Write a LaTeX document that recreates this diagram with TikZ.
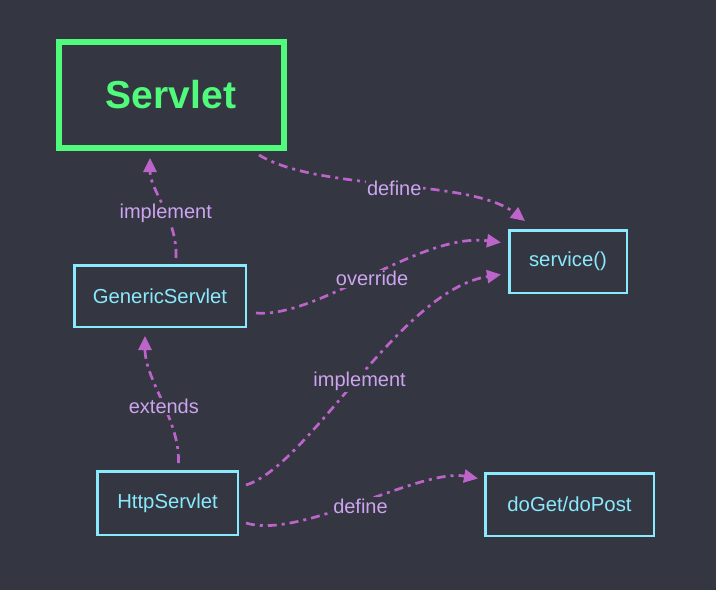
\documentclass[tikz,border=0pt]{standalone}
\usepackage{fontspec}
\setmainfont{Liberation Sans}
\usetikzlibrary{arrows.meta}
\definecolor{bg}{HTML}{343641}
\definecolor{grn}{HTML}{50FA7B}
\definecolor{cyn}{HTML}{8BE9FD}
\definecolor{arr}{HTML}{BD64CB}
\definecolor{lbl}{HTML}{CDA4F0}
\tikzset{
  box/.style={draw=cyn, line width=2.5pt, text=cyn, font=\fontsize{20.3}{24}\selectfont, inner sep=0pt},
  mainbox/.style={draw=grn, line width=6pt, text=grn, font=\fontsize{39}{44}\selectfont\bfseries, inner sep=0pt, minimum width=225pt, minimum height=106pt},
  conn/.style={draw=arr, line width=2.7pt, dash pattern=on 9pt off 5pt on 3pt off 5pt, -{Triangle[length=14pt,width=13pt]}},
  elabel/.style={fill=bg, text=lbl, font=\fontsize{20}{24}\selectfont, inner sep=1.5pt, yshift=-3pt}
}
\begin{document}
\begin{tikzpicture}[x=1pt,y=-1pt]
\fill[bg] (0,0) rectangle (716,590);
\useasboundingbox (0,0) rectangle (716,590);
\node[mainbox] (servlet) at (171,95) {Servlet};
\node[box, minimum width=171.5pt, minimum height=61.5pt] (gs) at (160,296) {GenericServlet};
\node[box, minimum width=117.5pt, minimum height=62.5pt] (svc) at (568,261.5) {service()};
\node[box, minimum width=140.5pt, minimum height=63.5pt] (hs) at (167.5,503) {HttpServlet};
\node[box, minimum width=168.5pt, minimum height=62.5pt] (dg) at (569.5,504.5) {doGet/doPost};

\coordinate (a1) at ([xshift=16pt,yshift=6pt]gs.north);
\coordinate (a2) at ([xshift=-21pt,yshift=-7pt]servlet.south);
\draw[conn] (a1) .. controls (178,220) and (150,190) .. (a2)
  node[elabel, pos=0.45] {implement};

\coordinate (b1) at ([xshift=11pt,yshift=7pt]hs.north);
\coordinate (b2) at ([xshift=-15pt,yshift=-8pt]gs.south);
\draw[conn] (b1) .. controls (180,420) and (145,380) .. (b2)
  node[elabel, pos=0.47] {extends};

\coordinate (c1) at ([xshift=88pt,yshift=-4pt]servlet.south);
\coordinate (c2) at ([xshift=-43pt,yshift=8pt]svc.north);
\draw[conn] (c1) .. controls (320,192) and (470,178) .. (c2)
  node[elabel, pos=0.5] {define};

\coordinate (d1) at ([xshift=9pt,yshift=-17pt]gs.east);
\coordinate (d2) at ([xshift=-7pt,yshift=19pt]svc.west);
\draw[conn] (d1) .. controls (320,318) and (420,232) .. (d2)
  node[elabel, pos=0.5] {override};

\coordinate (e1) at ([xshift=7pt,yshift=18pt]hs.east);
\coordinate (e2) at ([xshift=-7pt,yshift=-13pt]svc.west);
\draw[conn] (e1) .. controls (310,465) and (400,290) .. (e2)
  node[elabel, pos=0.5] {implement};

\coordinate (f1) at ([xshift=7pt,yshift=-20pt]hs.east);
\coordinate (f2) at ([xshift=-6pt,yshift=26pt]dg.west);
\draw[conn] (f1) .. controls (300,540) and (420,468) .. (f2)
  node[elabel, pos=0.5] {define};
\end{tikzpicture}
\end{document}
